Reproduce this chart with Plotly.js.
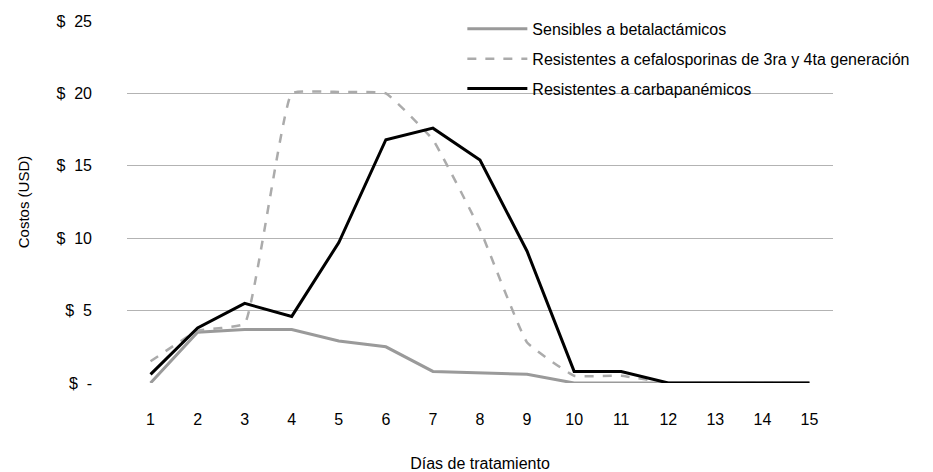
<!DOCTYPE html>
<html><head><meta charset="utf-8">
<script src="https://cdn.plot.ly/plotly-3.0.1.min.js"></script>
<style>html,body{margin:0;padding:0;background:#fff}#chart{width:933px;height:472px}</style>
</head><body><div id="chart"></div>
<script>
const dias = ['1','2','3','4','5','6','7','8','9','10','11','12','13','14','15'];
const sensibles = [0, 3.5, 3.7, 3.7, 2.9, 2.5, 0.8, 0.7, 0.6, 0, 0, 0, 0, 0, 0];
const cefalosporinas = [1.5, 3.6, 4.1, 20.0, 20.1, 20.0, 16.8, 10.6, 2.8, 0.5, 0.5, 0, 0, 0, 0];
const carbapenemicos = [0.6, 3.8, 5.5, 4.6, 9.7, 16.8, 17.6, 15.4, 9.1, 0.8, 0.8, 0, 0, 0, 0];
const yTickVals = [0, 5, 10, 15, 20, 25];
const yTickText = ['$\u00a0\u00a0-', '$\u00a0\u00a05', '$\u00a0\u00a010', '$\u00a0\u00a015', '$\u00a0\u00a020', '$\u00a0\u00a025'];
const names = ['Sensibles a betalactámicos', 'Resistentes a cefalosporinas de 3ra y 4ta generación', 'Resistentes a carbapanémicos'];

const traces = [
  {x: dias, y: sensibles, name: names[0], legendgroup: 'a', type: 'scatter', mode: 'lines',
   line: {color: '#9a9a9a', width: 3}},
  {x: dias, y: cefalosporinas, name: names[1], legendgroup: 'b', type: 'scatter', mode: 'lines',
   line: {color: '#ababab', width: 2.5, dash: 'dash', shape: 'spline', smoothing: 0.3}},
  {x: dias, y: carbapenemicos, name: names[2], legendgroup: 'c', type: 'scatter', mode: 'lines',
   line: {color: '#000000', width: 3}}
];
const layout = {
  width: 933, height: 472,
  margin: {l: 127, r: 100, t: 21, b: 89, autoexpand: false},
  paper_bgcolor: '#fff', plot_bgcolor: '#fff',
  font: {family: 'Liberation Sans, Arial, sans-serif', size: 16, color: '#000'},
  xaxis: {type: 'category', range: [-0.5, 14.5], showgrid: false, zeroline: false, showline: false,
    automargin: false,
    ticks: '', ticklabelstandoff: 25, tickfont: {size: 16},
    title: {text: 'Días de tratamiento', font: {size: 16}, standoff: 30}},
  yaxis: {range: [0, 25], tickvals: yTickVals, ticktext: yTickText, automargin: false,
    showgrid: true, gridcolor: '#b3b3b3', gridwidth: 1, zeroline: false, showline: false,
    ticks: '', ticklabelstandoff: 34, tickfont: {size: 16},
    title: {text: 'Costos (USD)', font: {size: 15}, standoff: 23}},
  showlegend: true,
  legend: {x: 0.475, y: 1.025, xanchor: 'left', yanchor: 'top', bgcolor: 'rgba(0,0,0,0)',
    font: {size: 16}, tracegroupgap: 6, itemwidth: 60}
};
Plotly.newPlot('chart', traces, layout, {displayModeBar: false, staticPlot: true});
</script></body></html>
